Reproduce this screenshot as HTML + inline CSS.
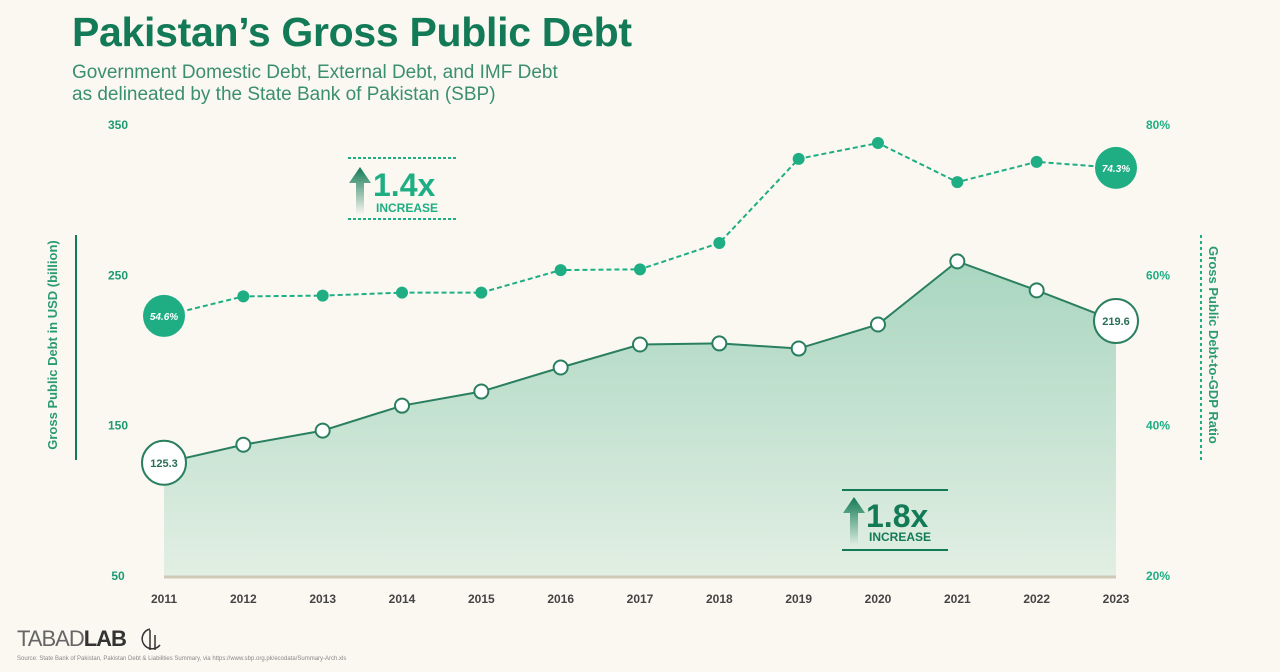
<!DOCTYPE html>
<html><head><meta charset="utf-8">
<style>
html,body{margin:0;padding:0;background:#fbf8f1;}
body{width:1280px;height:672px;overflow:hidden;position:relative;font-family:"Liberation Sans",sans-serif;}
.t{position:absolute;}
</style></head>
<body>
<div class="t" style="left:72px;top:9px;font-size:41px;font-weight:bold;color:#137a57;letter-spacing:-0.3px;">Pakistan’s Gross Public Debt</div>
<div class="t" style="left:72px;top:62px;font-size:19px;line-height:22px;color:#3a8f6e;">Government Domestic Debt, External Debt, and IMF Debt<br>as delineated by the State Bank of Pakistan (SBP)</div>
<svg id="chart" width="1280" height="672" style="position:absolute;left:0;top:0">
<defs>
<linearGradient id="ag" x1="0" y1="0" x2="0" y2="1"><stop offset="0" stop-color="#a9d6c0"/><stop offset="1" stop-color="#e2efe3"/></linearGradient>
<linearGradient id="arr" x1="0" y1="0" x2="0" y2="1"><stop offset="0" stop-color="#137a57"/><stop offset="1" stop-color="#137a57" stop-opacity="0"/></linearGradient>
</defs>
<g id="plot"></g>
<text x="57" y="345" transform="rotate(-90 57 345)" text-anchor="middle" font-size="13" font-weight="bold" fill="#2a9a72">Gross Public Debt in USD (billion)</text>
<line x1="76" y1="235" x2="76" y2="460" stroke="#137a57" stroke-width="2"/>
<text x="1209" y="345" transform="rotate(90 1209 345)" text-anchor="middle" font-size="13" font-weight="bold" fill="#2a9a72">Gross Public Debt-to-GDP Ratio</text>
<line x1="1201" y1="235" x2="1201" y2="460" stroke="#1fae84" stroke-width="2" stroke-dasharray="3,3"/>
<g>
<line x1="348" y1="158" x2="458" y2="158" stroke="#1fae84" stroke-width="2" stroke-dasharray="3,2"/>
<line x1="348" y1="219" x2="458" y2="219" stroke="#1fae84" stroke-width="2" stroke-dasharray="3,2"/>
<polygon points="349,183 360,167 371,183 364,183 364,215 356,215 356,183" fill="url(#arr)"/>
<text x="373" y="196" font-size="32" font-weight="bold" fill="#1fae84">1.4x</text>
<text x="376" y="212" font-size="12" font-weight="bold" fill="#1fae84">INCREASE</text>
</g>
<g>
<line x1="842" y1="490" x2="948" y2="490" stroke="#137a57" stroke-width="2"/>
<line x1="842" y1="550" x2="948" y2="550" stroke="#137a57" stroke-width="2"/>
<polygon points="843,513 854,497 865,513 858,513 858,545 850,545 850,513" fill="url(#arr)"/>
<text x="866" y="527" font-size="32" font-weight="bold" fill="#137a57">1.8x</text>
<text x="869" y="541" font-size="12" font-weight="bold" fill="#137a57">INCREASE</text>
</g>
<g fill="none" stroke="#333" stroke-width="1.5">
<path d="M150 629 A10 10 0 1 0 160 645"/><line x1="150" y1="630" x2="150" y2="650"/><line x1="155" y1="635" x2="155" y2="650"/>
</g>
</svg>
<div class="t" style="left:17px;top:626px;font-size:22px;color:#333;letter-spacing:-1px;"><span style="color:#666">TABAD</span><b>LAB</b></div>
<div class="t" style="left:17px;top:656px;font-size:6px;color:#888;">Source: State Bank of Pakistan, Pakistan Debt &amp; Liabilities Summary, via https://www.sbp.org.pk/ecodata/Summary-Arch.xls</div>
<script>
const years=["2011","2012","2013","2014","2015","2016","2017","2018","2019","2020","2021","2022","2023"];
const debt=[125.3,137.3,146.7,163.3,172.7,188.7,204,204.7,201.3,217.3,259.3,240,219.6];
const ratio=[54.6,57.2,57.3,57.7,57.7,60.7,60.8,64.3,75.5,77.6,72.4,75.1,74.3];
const leftTicks=[50,150,250,350];
const rightTicks=[20,40,60,80];
const NS="http://www.w3.org/2000/svg";
const g=document.getElementById('plot');
const x=i=>164+i*(1116-164)/(years.length-1);
const yL=v=>576-(v-50)*(451/300);
const yR=p=>576-(p-20)*(451/60);
function el(t,a,txt){const e=document.createElementNS(NS,t);for(const k in a)e.setAttribute(k,a[k]);if(txt!==undefined)e.textContent=txt;g.appendChild(e);return e;}
leftTicks.forEach(v=>{const e=el('text',{x:118,y:yL(v)+4,'text-anchor':'middle','font-size':12,'font-weight':'bold',fill:'#1d9a73'},v);

});
rightTicks.forEach(v=>{const e=el('text',{x:1158,y:yR(v)+4,'text-anchor':'middle','font-size':12,'font-weight':'bold',fill:'#1fae84'},v+'%');

});
years.forEach((yr,i)=>{const e=el('text',{x:x(i),y:603,'text-anchor':'middle','font-size':12,'font-weight':'bold',fill:'#444'},yr);

});
let pts=debt.map((v,i)=>x(i)+','+yL(v)).join(' ');
const area=el('polygon',{points:x(0)+','+yL(50)+' '+pts+' '+x(debt.length-1)+','+yL(50),fill:'url(#ag)'});


const base=el('line',{x1:x(0),x2:x(debt.length-1),y1:yL(50)+1,y2:yL(50)+1,stroke:'#cfc9b8','stroke-width':3});


const dl=el('polyline',{points:pts,fill:'none',stroke:'#2a7f60','stroke-width':2});


const rl=el('polyline',{points:ratio.map((v,i)=>x(i)+','+yR(v)).join(' '),fill:'none',stroke:'#1fae84','stroke-width':2,'stroke-dasharray':'5,3'});


debt.forEach((v,i)=>{const end=(i===0||i===debt.length-1);
const c=el('circle',{cx:x(i),cy:yL(v),r:end?22:7,fill:'#fff',stroke:'#2a7f60','stroke-width':2});


if(end){const t=el('text',{x:x(i),y:yL(v)+4,'text-anchor':'middle','font-size':11,'font-weight':'bold',fill:'#2a6f55'},v.toFixed(1));

}});
ratio.forEach((v,i)=>{const end=(i===0||i===ratio.length-1);
const c=el('circle',{cx:x(i),cy:yR(v),r:end?21:6,fill:'#1fae84'});


if(end){const t=el('text',{x:x(i),y:yR(v)+4,'text-anchor':'middle','font-size':10,'font-weight':'bold','font-style':'italic',fill:'#fff'},v.toFixed(1)+'%');

}});
</script>
</body></html>
